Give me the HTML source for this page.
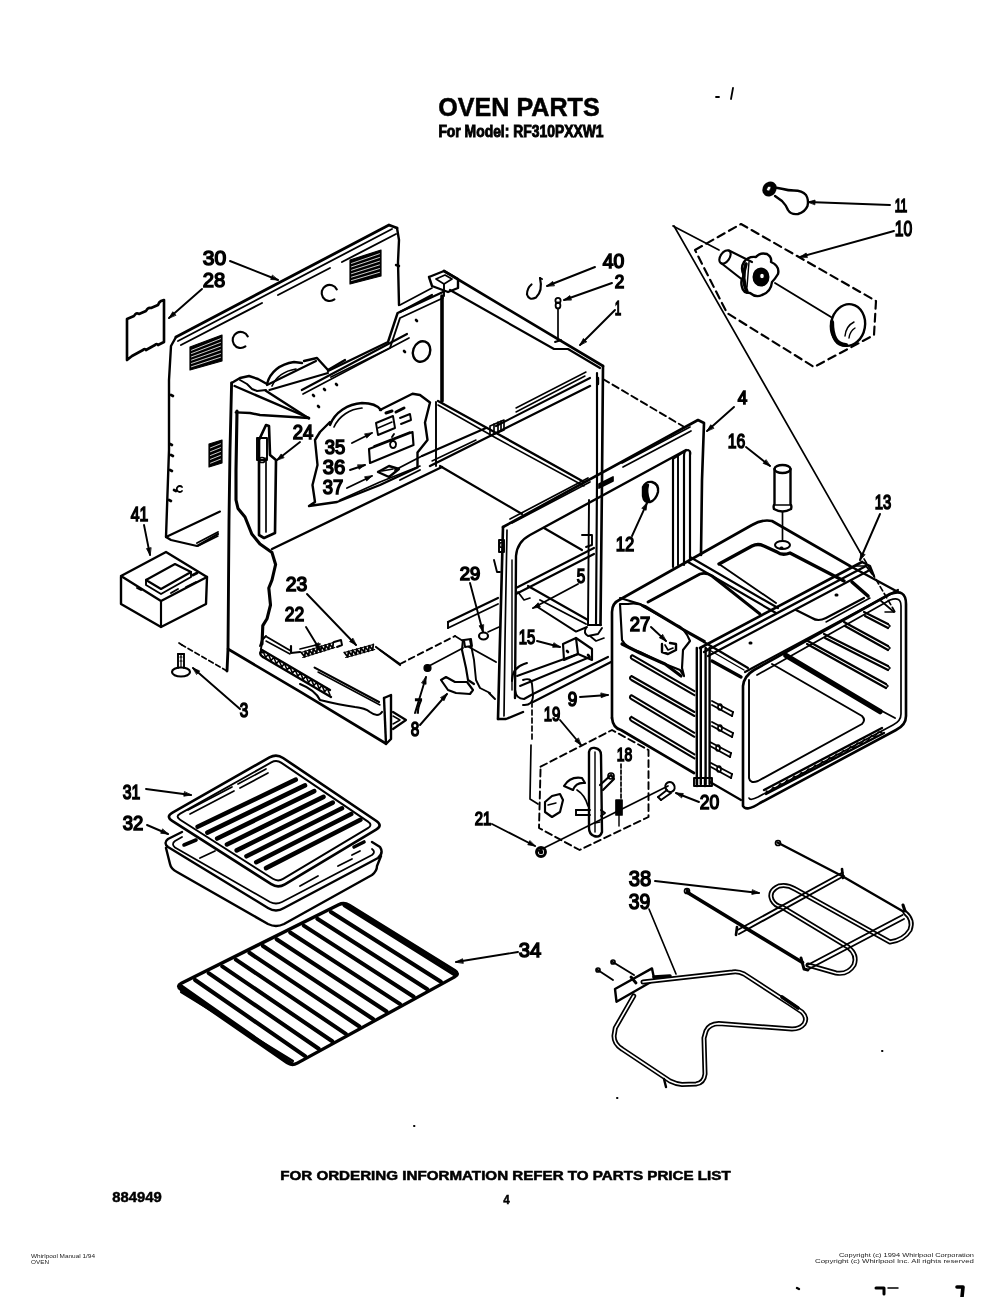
<!DOCTYPE html>
<html><head><meta charset="utf-8"><style>
html,body{margin:0;padding:0;background:#fff;}
body{width:1000px;height:1297px;overflow:hidden;position:relative;}
svg{position:absolute;left:0;top:0;will-change:transform;}
.n{font-family:"Liberation Sans",sans-serif;fill:#000;stroke:#000;stroke-width:1.5;}
.b{font-family:"Liberation Sans",sans-serif;font-weight:bold;fill:#000;stroke:#000;stroke-width:0.5;}
.m{font-family:"Liberation Sans",sans-serif;font-weight:bold;fill:#000;stroke:#000;stroke-width:0.9;}
.t{font-family:"Liberation Sans",sans-serif;fill:#222;}
</style></head><body>
<svg width="1000" height="1297" viewBox="0 0 1000 1297">
<g fill="none" stroke="#000" stroke-width="2" stroke-linejoin="round" stroke-linecap="round">
<polyline points="716,97 719,97" stroke-width="1.80"/>
<polyline points="733,88 731,99" stroke-width="1.80"/>
<polyline points="797,1288 799,1289" stroke-width="2.40"/>
<polyline points="876,1288 884,1288 884,1294" stroke-width="3.00"/>
<polyline points="888,1288 898,1288" stroke-width="1.44"/>
<polyline points="957,1287 963,1287 962,1297" stroke-width="3.60"/>
<polyline points="230,261 278,280" stroke-width="1.92"/>
<polygon points="278,280 270.682,279.469 272.301,275.378" fill="#000" stroke-width="0.8"/>
<polyline points="202,289 169,318" stroke-width="1.92"/>
<polygon points="169,318 172.806,311.727 175.71,315.032" fill="#000" stroke-width="0.8"/>
<polyline points="144,525 150,555" stroke-width="1.92"/>
<polygon points="150,555 146.47,548.567 150.784,547.704" fill="#000" stroke-width="0.8"/>
<polyline points="300,442 277,460" stroke-width="1.92"/>
<polygon points="277,460 281.157,453.953 283.868,457.418" fill="#000" stroke-width="0.8"/>
<polyline points="352,443 372,433" stroke-width="1.92"/>
<polygon points="372,433 366.723,438.098 364.755,434.163" fill="#000" stroke-width="0.8"/>
<polyline points="350,470 365,465" stroke-width="1.92"/>
<polygon points="365,465 359.055,469.301 357.664,465.126" fill="#000" stroke-width="0.8"/>
<polyline points="347,488 372,476" stroke-width="1.92"/>
<polygon points="372,476 366.641,481.012 364.737,477.046" fill="#000" stroke-width="0.8"/>
<polyline points="307,594 356,645" stroke-width="1.92"/>
<polygon points="356,645 349.564,641.476 352.737,638.428" fill="#000" stroke-width="0.8"/>
<polyline points="306,627 320,650" stroke-width="1.92"/>
<polygon points="320,650 314.481,645.164 318.24,642.877" fill="#000" stroke-width="0.8"/>
<polyline points="240,709 193,668" stroke-width="1.92"/>
<polygon points="193,668 199.721,670.944 196.829,674.259" fill="#000" stroke-width="0.8"/>
<polyline points="415,713 426,677" stroke-width="1.92"/>
<polygon points="426,677 426.058,684.337 421.85,683.052" fill="#000" stroke-width="0.8"/>
<polyline points="420,725 447,694" stroke-width="1.92"/>
<polygon points="447,694 444.062,700.723 440.744,697.834" fill="#000" stroke-width="0.8"/>
<polyline points="470,583 483,632" stroke-width="1.92"/>
<polygon points="483,632 479.079,625.798 483.331,624.67" fill="#000" stroke-width="0.8"/>
<polyline points="578,584 533,608" stroke-width="1.92"/>
<polygon points="533,608 538.141,602.765 540.212,606.647" fill="#000" stroke-width="0.8"/>
<polyline points="537,641 560,647" stroke-width="1.92"/>
<polygon points="560,647 552.671,647.362 553.782,643.104" fill="#000" stroke-width="0.8"/>
<polyline points="651,627 666,641" stroke-width="1.92"/>
<polygon points="666,641 659.382,637.832 662.384,634.615" fill="#000" stroke-width="0.8"/>
<polyline points="580,697 608,695" stroke-width="1.92"/>
<polygon points="608,695 601.175,697.693 600.861,693.304" fill="#000" stroke-width="0.8"/>
<polyline points="560,720 581,745" stroke-width="1.92"/>
<polygon points="581,745 574.813,741.055 578.182,738.225" fill="#000" stroke-width="0.8"/>
<polyline points="632,536 647,503" stroke-width="1.92"/>
<polygon points="647,503 646.106,510.283 642.101,508.462" fill="#000" stroke-width="0.8"/>
<polyline points="734,407 707,431" stroke-width="1.92"/>
<polygon points="707,431 710.77,424.705 713.693,427.994" fill="#000" stroke-width="0.8"/>
<polyline points="746,447 770,466" stroke-width="1.92"/>
<polygon points="770,466 763.146,463.38 765.877,459.93" fill="#000" stroke-width="0.8"/>
<polyline points="880,514 860,560" stroke-width="1.92"/>
<polygon points="860,560 860.774,552.703 864.809,554.458" fill="#000" stroke-width="0.8"/>
<polyline points="595,267 547,286" stroke-width="1.92"/>
<polygon points="547,286 552.699,281.378 554.318,285.469" fill="#000" stroke-width="0.8"/>
<polyline points="612,283 564,300" stroke-width="1.92"/>
<polygon points="564,300 569.864,295.589 571.333,299.737" fill="#000" stroke-width="0.8"/>
<polyline points="615,310 580,345" stroke-width="1.92"/>
<polygon points="580,345 583.394,338.495 586.505,341.606" fill="#000" stroke-width="0.8"/>
<polyline points="890,205 808,202" stroke-width="1.92"/>
<polygon points="808,202 815.076,200.057 814.915,204.454" fill="#000" stroke-width="0.8"/>
<polyline points="894,231 800,257" stroke-width="1.92"/>
<polygon points="800,257 806.16,253.014 807.333,257.254" fill="#000" stroke-width="0.8"/>
<polyline points="146,789 191,795" stroke-width="1.92"/>
<polygon points="191,795 183.771,796.256 184.352,791.894" fill="#000" stroke-width="0.8"/>
<polyline points="147,825 168,834" stroke-width="1.92"/>
<polygon points="168,834 160.699,833.265 162.433,829.22" fill="#000" stroke-width="0.8"/>
<polyline points="518,952 456,962" stroke-width="1.92"/>
<polygon points="456,962 462.56,958.713 463.261,963.057" fill="#000" stroke-width="0.8"/>
<polyline points="492,824 535,846" stroke-width="1.92"/>
<polygon points="535,846 527.766,844.77 529.77,840.853" fill="#000" stroke-width="0.8"/>
<polyline points="621,764 621,798" stroke-dasharray="4 2" stroke-width="1.68"/>
<polyline points="699,802 676,793" stroke-width="1.92"/>
<polygon points="676,793 683.32,793.502 681.717,797.6" fill="#000" stroke-width="0.8"/>
<polyline points="655,881 759,893" stroke-width="1.92"/>
<polygon points="759,893 751.794,894.383 752.298,890.012" fill="#000" stroke-width="0.8"/>
<polyline points="649,909 676,974" stroke-width="1.68"/>
<polyline points="176,337 389,225 397,228" stroke-width="2.88"/>
<polyline points="178,341 392,229" stroke-width="1.80"/>
<polyline points="397,228 399,240 398,262 399,305" stroke-width="2.40"/>
<polyline points="176,337 171,346 169,380 169,450 166,537" stroke-width="2.40"/>
<polyline points="181,345 262,303" stroke-width="1.92"/>
<polyline points="278,295 330,268" stroke-width="1.92"/>
<polyline points="342,262 396,234" stroke-width="1.92"/>
<polyline points="166,537 220,511.5" stroke-width="2.16"/>
<polyline points="166,537 171,540 197,546 218,534" stroke-width="2.16"/>
<polyline points="197,543 218,532" stroke-width="1.92"/>
<polyline points="198,546 218,536" stroke-width="1.44"/>
<polyline points="171,395 173,396" stroke-width="2.64"/>
<polyline points="170,444 172,445" stroke-width="2.64"/>
<polyline points="171,455 173,456" stroke-width="2.64"/>
<polyline points="170,470 172,471" stroke-width="2.64"/>
<polyline points="174,490 176,491" stroke-width="2.64"/>
<polyline points="169,500 171,501" stroke-width="2.64"/>
<path d="M 182,491 a 3 3 0 1 1 0,-4" stroke-width="1.80"/>
<path d="M 396,265 l 3,1" stroke-width="2.40"/>
<polygon points="350,260 381,250 381,276 350,284" stroke-width="1.20" fill="#000"/>
<polyline points="351.5,263.429 379.5,253.714" stroke="#fff" stroke-width="0.8"/>
<polyline points="351.5,266.857 379.5,257.429" stroke="#fff" stroke-width="0.8"/>
<polyline points="351.5,270.286 379.5,261.143" stroke="#fff" stroke-width="0.8"/>
<polyline points="351.5,273.714 379.5,264.857" stroke="#fff" stroke-width="0.8"/>
<polyline points="351.5,277.143 379.5,268.571" stroke="#fff" stroke-width="0.8"/>
<polyline points="351.5,280.571 379.5,272.286" stroke="#fff" stroke-width="0.8"/>
<polygon points="190,347 222,335 222,361 190,370" stroke-width="1.20" fill="#000"/>
<polyline points="191.5,350.286 220.5,338.714" stroke="#fff" stroke-width="0.8"/>
<polyline points="191.5,353.571 220.5,342.429" stroke="#fff" stroke-width="0.8"/>
<polyline points="191.5,356.857 220.5,346.143" stroke="#fff" stroke-width="0.8"/>
<polyline points="191.5,360.143 220.5,349.857" stroke="#fff" stroke-width="0.8"/>
<polyline points="191.5,363.429 220.5,353.571" stroke="#fff" stroke-width="0.8"/>
<polyline points="191.5,366.714 220.5,357.286" stroke="#fff" stroke-width="0.8"/>
<polygon points="209,444 222,440 222,463 209,467" stroke-width="1.20" fill="#000"/>
<polyline points="210.5,447.833 220.5,443.833" stroke="#fff" stroke-width="0.8"/>
<polyline points="210.5,451.667 220.5,447.667" stroke="#fff" stroke-width="0.8"/>
<polyline points="210.5,455.5 220.5,451.5" stroke="#fff" stroke-width="0.8"/>
<polyline points="210.5,459.333 220.5,455.333" stroke="#fff" stroke-width="0.8"/>
<polyline points="210.5,463.167 220.5,459.167" stroke="#fff" stroke-width="0.8"/>
<path d="M 334.4,299.4 A 8 8 0 1 1 336.8,289.4" stroke-width="2.16"/>
<path d="M 245.4,346.4 A 8 8 0 1 1 247.8,336.4" stroke-width="2.16"/>
<path d="M 127,319 L 134,316 q 2,-4 5,-2 L 146,311 q 2,-4 5,-3 L 158,305 q 1,-3 3,-4 L 164,300 L 164,342 L 158,345 q -1,-2 -3,0 L 146,350 q -1,-2 -3,0 L 132,356 L 127,360 Z" stroke-width="2.64"/>
<polyline points="121,576 166,552 207,577 161,601 121,576" stroke-width="2.40"/>
<polyline points="121,577 121,604 161,627 206,604 207,577" stroke-width="2.40"/>
<polyline points="161,601 161,627" stroke-width="2.16"/>
<polyline points="146,580 175,564 191,572 161,589 146,580" stroke-width="2.16"/>
<polyline points="146,580 146,585 161,594 191,577 191,572" stroke-width="1.92"/>
<polyline points="137,588 141,590" stroke-width="1.92"/>
<polyline points="171,593 178,589" stroke-width="1.92"/>
<polyline points="186,587 196,582" stroke-width="1.92"/>
<polyline points="193,575 197,573" stroke-width="3.00"/>
<polyline points="178,654 178,668" stroke-width="1.92"/>
<polyline points="184,654 184,668" stroke-width="1.92"/>
<polyline points="178,654 184,654" stroke-width="1.92"/>
<polyline points="180,657 182,657" stroke-width="1.20"/>
<polyline points="180,661 182,661" stroke-width="1.20"/>
<ellipse cx="181" cy="672" rx="9" ry="4.5" stroke-width="2.16"/>
<polyline points="181,655 181,667" stroke-width="1.20"/>
<polyline points="231.6,383 230,450 229,520 228,649 227,671" stroke-width="2.88"/>
<polyline points="227,671 182,645" stroke-dasharray="5 3" stroke-width="1.68"/>
<polyline points="182,645 179,643" stroke-width="1.68"/>
<polyline points="231.6,383 240,378 249,376 258,379 267,384" stroke-width="2.40"/>
<polyline points="240,380 247,384 252,389 257,391 266,390" stroke-width="1.92"/>
<polyline points="234.6,386 309,418" stroke-width="2.40"/>
<polyline points="265.8,390.8 309,418.4" stroke-width="2.40"/>
<polyline points="235.8,412.4 250,413 260,415 309,418" stroke-width="2.40"/>
<polyline points="237,411 236,470 236,500 238,508.5 245,517 251.8,534 260,544 272,552.6 275.6,564.5 272,580 268.8,588 270.5,605 267,618.8 262.8,625.6 262,644" stroke-width="3.12"/>
<polyline points="272,549 442,467" stroke-width="2.40"/>
<polyline points="228,649 300,691.7 385,743" stroke-width="2.64"/>
<path d="M 267,384 C 270,372 280,364 294,362 L 302,363" stroke-width="2.40"/>
<path d="M 272,386 C 276,377 284,371 296,369" stroke-width="1.68"/>
<polyline points="267,385 316,361" stroke-width="2.16"/>
<polyline points="304,361 317,358 328,370 345,360" stroke-width="2.40"/>
<polyline points="269.4,390 328,373" stroke-width="2.16"/>
<polyline points="328,371 388,342 397.6,313 443,292" stroke-width="2.40"/>
<polyline points="331,377 390,348 400,318 443,298" stroke-width="1.92"/>
<polyline points="301.8,390 407,334" stroke-width="2.16"/>
<polyline points="303,394 409,338" stroke-width="1.68"/>
<polyline points="313,395 314,396" stroke-width="2.64"/>
<polyline points="324,389 325,390" stroke-width="2.64"/>
<polyline points="336,384 337,385" stroke-width="2.64"/>
<polyline points="318,406 319,407" stroke-width="2.64"/>
<polyline points="404,351 405,352" stroke-width="2.64"/>
<polyline points="416,320 417,321" stroke-width="2.64"/>
<ellipse cx="421.6" cy="351.5" rx="8.5" ry="10.5" stroke-width="2.40" transform="rotate(20 421.6 351.5)"/>
<polyline points="259,440 259,535 264,538 275,533 276,460 270,455 269,426 266,425 259,440" stroke-width="2.64"/>
<polyline points="266,458 266,532" stroke-width="1.68"/>
<polyline points="257,438 257,460 267,460 267,438 257,438" stroke-width="1.92"/>
<ellipse cx="262" cy="460" rx="3" ry="2.5" stroke-width="1.68"/>
<polyline points="330,422 320,432 315,440 317.5,465 312.5,485 315,502 309,506 337,502 380,485 417.5,467.5 417.5,452.5 427.5,440 425,422.5 430,402.5 420,395 412.5,393.75 380,410" stroke-width="2.40"/>
<path d="M 330,425 C 335,412 348,404 362,403 C 372,403 378,406 381,410" stroke-width="2.40"/>
<path d="M 334,427 C 339,416 350,409 362,408" stroke-width="1.68"/>
<polyline points="376,423 393,416 395,428 378,435 376,423" stroke-width="1.92"/>
<polyline points="386,413 392,411" stroke-width="3.00"/>
<polyline points="396,412 404,408" stroke-width="3.00"/>
<polyline points="400,418 410,414 411,420 401,424" stroke-width="1.92"/>
<polyline points="378,428 392,422" stroke-width="1.44"/>
<polyline points="369,449 412.5,432 413.5,445 370,463 369,449" stroke-width="2.16"/>
<polyline points="374,446 410,432" stroke-width="1.44"/>
<path d="M 393,441 a 3 3.5 0 1 0 0.1,0 M 392,437 l 2,-3" stroke-width="1.92"/>
<polyline points="378,472 389,466 399,469 389,477 378,472" stroke-width="2.40"/>
<polyline points="382,471 393,469" stroke-width="1.68"/>
<polyline points="340,500 380,482 410,470 420,466" stroke-width="1.68"/>
<polyline points="429,277 444,271 458,279 458,288 448,292 432,286 429,277" stroke-width="2.40"/>
<polyline points="436,279 445,275 452,279 444,284 436,279" stroke-width="1.68"/>
<polyline points="444,284 444,296" stroke-width="1.92"/>
<polyline points="444,271 603,366" stroke-width="2.64"/>
<polyline points="450,290 554,349 568,349 600,368" stroke-width="2.16"/>
<polyline points="442,296 442,401" stroke-width="3.60"/>
<polyline points="603,366 602,480 600.5,625" stroke-width="2.64"/>
<polyline points="597,373 597,480 596,625" stroke-width="2.16"/>
<polyline points="589,500 588,625" stroke-width="1.92"/>
<polyline points="588,625 601,625" stroke-width="1.92"/>
<polyline points="603,379 686,428" stroke-dasharray="7 4" stroke-width="1.92"/>
<polyline points="438,401 498,434 584,482" stroke-width="2.40"/>
<polyline points="438,405 496,438 584,486" stroke-width="1.56"/>
<polyline points="436,402 436,466" stroke-width="1.92"/>
<polyline points="422,456 486,428" stroke-width="2.16"/>
<polyline points="496,426 590,378" stroke-width="2.16"/>
<polyline points="430,466 494,434 590,386" stroke-width="2.40"/>
<polyline points="432,461 476,440" stroke-width="1.44"/>
<polyline points="516,412 585,376" stroke-width="1.44"/>
<polyline points="516,408 586,372" stroke-width="1.44"/>
<polyline points="490,426 504,420 504,430 490,436 490,426" stroke-width="1.68"/>
<polyline points="494,424 494,434" stroke-width="1.68"/>
<polyline points="498,422 498,432" stroke-width="1.68"/>
<polyline points="501,421 501,431" stroke-width="1.68"/>
<polyline points="598,378 598,384" stroke-width="2.40"/>
<polyline points="440,466 522,514" stroke-width="2.16"/>
<polyline points="544,528 582,550" stroke-width="2.16"/>
<polyline points="528,586 588,620" stroke-width="2.16"/>
<polyline points="540,600 586,624" stroke-width="1.92"/>
<polyline points="536,606 576,631.6 587,627" stroke-width="1.92"/>
<polyline points="400,480 420,470" stroke-width="1.92"/>
<polyline points="395,470 422,456" stroke-width="1.92"/>
<polyline points="400,312 432,295" stroke-width="2.16"/>
<polyline points="400,305 432,288" stroke-width="1.68"/>
<polyline points="503,527 698,420 704,423 702,480 701,555" stroke-width="2.64"/>
<path d="M 686,450 L 530,535 Q 517,542 516,556 L 515,698" stroke-width="2.40"/>
<polyline points="690,452 690,560" stroke-width="2.16"/>
<path d="M 684,565 L 684,456 Q 684,450 688,450 Q 691,451 690,455" stroke-width="2.16"/>
<polyline points="678,456 678,565" stroke-width="1.92"/>
<polyline points="673,459 673,567" stroke-width="2.16"/>
<polyline points="673,459 684,452" stroke-width="1.68"/>
<polyline points="503,527 500,640 498,719" stroke-width="2.64"/>
<polyline points="507,530 505,640 504,716" stroke-width="1.68"/>
<polyline points="512,690 512,560" stroke-width="1.44"/>
<polyline points="510,519 588,478" stroke-width="1.68"/>
<polyline points="512,523 590,482" stroke-width="1.68"/>
<polyline points="622,463 690,427" stroke-width="1.68"/>
<polyline points="623,467 691,431" stroke-width="1.68"/>
<polyline points="599,484 613,477 613,481 599,488 599,484" stroke-width="1.68" fill="#000"/>
<polyline points="498,719 506,719 523,712" stroke-width="2.40"/>
<path d="M 515,690 Q 516,699 524,699 L 533,694" stroke-width="2.16"/>
<polyline points="517,676 578,654" stroke-width="1.92"/>
<polyline points="520,686 590,657" stroke-width="1.92"/>
<polyline points="533,694 608,657" stroke-width="2.16"/>
<polyline points="533,702 611,662" stroke-width="2.16"/>
<path d="M 512,681 Q 512,668 524,664 L 527,663" stroke-width="1.92"/>
<path d="M 523,705 Q 533,706 533,695 L 532,684 Q 531,677 523,680" stroke-width="1.92"/>
<polyline points="499,540 504,540 504,552 499,552 499,540" stroke-width="1.92"/>
<ellipse cx="501.5" cy="545" rx="2" ry="2.5" stroke-width="1.44"/>
<polyline points="494,560 497,572 500,572" stroke-width="1.92"/>
<polyline points="516,588 594,548" stroke-width="2.16"/>
<polyline points="516,594 594,554" stroke-width="2.16"/>
<polyline points="518,592 524,600 530,598" stroke-width="1.68"/>
<polyline points="582,535 592,535 592,545 586,547" stroke-width="1.92"/>
<polyline points="448,622 498,598" stroke-width="2.16"/>
<polyline points="448,628 498,604" stroke-width="1.92"/>
<polyline points="448,622 448,628" stroke-width="1.92"/>
<ellipse cx="483.5" cy="636" rx="4.5" ry="3.5" stroke-width="2.16"/>
<polyline points="488,632 499,627" stroke-width="1.68"/>
<polyline points="455,636 463,641" stroke-width="1.68"/>
<polyline points="380,650 400,664" stroke-width="1.92"/>
<polyline points="400,664 455,636" stroke-dasharray="6 4" stroke-width="1.92"/>
<ellipse cx="427.5" cy="668" rx="3.5" ry="3.5" stroke-width="1.20" fill="#000"/>
<polyline points="429,666 463,648" stroke-width="1.68"/>
<polyline points="463,640 462,650 466,668 468,680 474,684" stroke-width="2.16"/>
<polyline points="470,640 472,650 474,660 476,680 480,688 490,693" stroke-width="1.92"/>
<polyline points="464,640 471,639 472,646 465,647 464,640" stroke-width="1.92"/>
<polyline points="441,680 446,677 455,682 467,682 473,690 470,694 456,693 448,690 441,680" stroke-width="2.16"/>
<polyline points="489,693 495,699" stroke-width="1.92"/>
<polyline points="469,647 496,662" stroke-width="1.92"/>
<polyline points="532,702 532,742" stroke-dasharray="5 3" stroke-width="1.68"/>
<path d="M 262,644 Q 259,655 264,652" stroke-width="1.92"/>
<polyline points="260,646 262,640 266,636" stroke-width="1.92"/>
<polyline points="267,637 291,651" stroke-width="1.92"/>
<polyline points="266,641 290,654" stroke-width="1.44"/>
<polyline points="262,650 330,690" stroke-width="2.40"/>
<polyline points="263,657 331,697" stroke-width="2.40"/>
<path d="M 262,650 Q 258,654 263,657" stroke-width="2.40"/>
<polyline points="263,651 265.68,657.56 268.36,654.12 271.04,660.68 273.72,657.24 276.4,663.8 279.08,660.36 281.76,666.92 284.44,663.48 287.12,670.04 289.8,666.6 292.48,673.16 295.16,669.72 297.84,676.28 300.52,672.84 303.2,679.4 305.88,675.96 308.56,682.52 311.24,679.08 313.92,685.64 316.6,682.2 319.28,688.76 321.96,685.32 324.64,691.88 327.32,688.44 330,695" stroke-width="1.56"/>
<path d="M 300,684 Q 315,690 320,700 Q 340,705 355,707 Q 365,708 370,712 Q 378,718 382,712" stroke-width="2.16"/>
<polyline points="314.6,667.6 379,702" stroke-width="2.16"/>
<polyline points="318,672 380,705" stroke-width="1.44"/>
<polyline points="384,698 386,744" stroke-width="2.40"/>
<polyline points="384,698 391,695 391,739 386,744" stroke-width="2.40"/>
<polyline points="393,712 406,720 393,729" stroke-width="2.16"/>
<polyline points="393,716 400,720 393,724" stroke-width="1.44"/>
<polyline points="291,646 291,653 300,652" stroke-width="2.16"/>
<polyline points="301.224,652.518 304.776,656.857 305.224,651.268 308.776,655.607 309.224,650.018 312.776,654.357 313.224,648.768 316.776,653.107 317.224,647.518 320.776,651.857 321.224,646.268 324.776,650.607 325.224,645.018 328.776,649.357 329.224,643.768 332.776,648.107 333.224,642.518" stroke-width="1.80"/>
<polyline points="302.776,657.482 334.776,647.482" stroke-width="1.20"/>
<polyline points="301.224,652.518 333.224,642.518" stroke-width="1.20"/>
<polyline points="334,642 341,640 342,645 337,647" stroke-width="1.92"/>
<polyline points="300,649 320,644" stroke-width="1.68"/>
<polyline points="344.309,652.494 347.763,656.935 348.451,651.351 351.906,655.792 352.594,650.208 356.049,654.649 356.737,649.065 360.191,653.506 360.88,647.922 364.334,652.364 365.023,646.779 368.477,651.221 369.166,645.636 372.62,650.078 373.309,644.494" stroke-width="1.80"/>
<polyline points="345.691,657.506 374.691,649.506" stroke-width="1.20"/>
<polyline points="344.309,652.494 373.309,644.494" stroke-width="1.20"/>
<polyline points="376,647 400,665" stroke-width="2.16"/>
<polyline points="563,644 576,638 578,654 564,660 563,644" stroke-width="2.16"/>
<polyline points="576,638 592,649 592,660 578,654" stroke-width="2.16"/>
<polyline points="567,651 568,652" stroke-width="2.64"/>
<polyline points="588,655 589,656" stroke-width="2.64"/>
<path d="M 586,628 Q 583,633 588,636 L 598,634 L 602,628" stroke-width="1.92"/>
<polyline points="590,636 596,641 604,638" stroke-width="1.68"/>
<path d="M 612,718 L 612,612 Q 612,603 620,599.5 L 752,525 Q 762,519 772,521 L 850,566" stroke-width="2.64"/>
<polyline points="850,566 898,592" stroke-width="2.40"/>
<polyline points="620,598 640,604 690,634 704,642" stroke-width="2.16"/>
<path d="M 612,718 Q 613,728 621,730 L 694,773" stroke-width="2.64"/>
<path d="M 632.2,655.2 L 694.4,691.2 M 632.2,659.2 L 694.4,695.2 M 632.2,655.2 Q 629.2,657.2 632.2,659.2" stroke-width="2.04"/>
<path d="M 631.4,676 L 694.4,712 M 631.4,680 L 694.4,716 M 631.4,676 Q 628.4,678 631.4,680" stroke-width="2.04"/>
<path d="M 631.4,695.2 L 694.4,732.8 M 631.4,699.2 L 694.4,736.8 M 631.4,695.2 Q 628.4,697.2 631.4,699.2" stroke-width="2.04"/>
<path d="M 631.4,716.8 L 694.4,754.4 M 631.4,720.8 L 694.4,758.4 M 631.4,716.8 Q 628.4,718.8 631.4,720.8" stroke-width="2.04"/>
<polyline points="712,701 733,712" stroke-width="1.92"/>
<polyline points="712,705 732,716" stroke-width="1.92"/>
<polyline points="733,712 732,716" stroke-width="1.92"/>
<ellipse cx="720" cy="707" rx="2" ry="3" stroke-width="1.68"/>
<polyline points="712,722 733,733" stroke-width="1.92"/>
<polyline points="712,726 732,737" stroke-width="1.92"/>
<polyline points="733,733 732,737" stroke-width="1.92"/>
<ellipse cx="720" cy="728" rx="2" ry="3" stroke-width="1.68"/>
<polyline points="710,742 731,753" stroke-width="1.92"/>
<polyline points="710,746 730,757" stroke-width="1.92"/>
<polyline points="731,753 730,757" stroke-width="1.92"/>
<ellipse cx="718" cy="748" rx="2" ry="3" stroke-width="1.68"/>
<polyline points="711,763 732,774" stroke-width="1.92"/>
<polyline points="711,767 731,778" stroke-width="1.92"/>
<polyline points="732,774 731,778" stroke-width="1.92"/>
<ellipse cx="719" cy="769" rx="2" ry="3" stroke-width="1.68"/>
<polyline points="696.8,648 696.8,784" stroke-width="2.40"/>
<polyline points="700.8,648 700.8,784" stroke-width="2.40"/>
<polyline points="705.6,648 705.6,784" stroke-width="2.40"/>
<polyline points="709.6,648 709.6,784" stroke-width="2.40"/>
<polyline points="694,778 712,778 712,786 694,786 694,778" stroke-width="1.92"/>
<polyline points="697,778 697,786" stroke-width="2.40"/>
<polyline points="705,778 705,786" stroke-width="2.40"/>
<polyline points="710,782 741,800" stroke-width="2.16"/>
<path d="M 620,604 L 622,640 Q 626,648 640,652 L 660,662 L 680,670 L 684,676 L 682,668 L 683,650 L 690,641 Q 685,628 675,624 L 645,606 Q 636,602 628,604 Z" stroke-width="2.16"/>
<polyline points="622,644 640,653 665,664 681,676" stroke-width="3.12"/>
<polyline points="662,644 662,652 668,654 676,650 676,644 670,643" stroke-width="2.40"/>
<polyline points="665,645 668,650 673,648" stroke-width="1.68"/>
<path d="M 743,806 L 743,686 Q 744,676 754,670 L 890,594 Q 906,588 906,604 L 906,716 Q 906,725 896,730 L 760,803 Q 746,812 743,806" stroke-width="2.64"/>
<path d="M 757,675 L 890,600 Q 901,596 901,606 L 901,714 Q 901,721 893,725 L 758,797 Q 750,801 749,798" stroke-width="1.68"/>
<path d="M 749,680 L 749,778 Q 750,784 758,781 L 862,724 Q 866,720 862,716 L 772,664" stroke-width="1.92"/>
<polyline points="704,642 748,668" stroke-width="2.16"/>
<polyline points="706,648 744,670" stroke-width="1.44"/>
<polyline points="712,661 741,677" stroke-width="3.36"/>
<polyline points="764,790 882,728" stroke-width="2.40"/>
<polyline points="766,794 884,733" stroke-width="2.40"/>
<polyline points="766,791 769.515,792.152 773.03,787.303 776.545,788.455 780.061,783.606 783.576,784.758 787.091,779.909 790.606,781.061 794.121,776.212 797.636,777.364 801.152,772.515 804.667,773.667 808.182,768.818 811.697,769.97 815.212,765.121 818.727,766.273 822.242,761.424 825.758,762.576 829.273,757.727 832.788,758.879 836.303,754.03 839.818,755.182 843.333,750.333 846.848,751.485 850.364,746.636 853.879,747.788 857.394,742.939 860.909,744.091 864.424,739.242 867.939,740.394 871.455,735.545 874.97,736.697 878.485,731.848 882,733" stroke-width="1.32"/>
<polyline points="786,655.5 880,711.5" stroke-width="5.52"/>
<polyline points="880,710 895,718" stroke-width="1.92"/>
<polyline points="806,640 886,684" stroke-width="2.16"/>
<polyline points="807,644 886,688" stroke-width="2.16"/>
<polyline points="886,684 888,686 886,688" stroke-width="1.68"/>
<polyline points="824,634 888,666" stroke-width="2.16"/>
<polyline points="825,638 888,670" stroke-width="2.16"/>
<polyline points="888,666 890,668 888,670" stroke-width="1.68"/>
<polyline points="844,622 888,646" stroke-width="2.16"/>
<polyline points="845,626 888,650" stroke-width="2.16"/>
<polyline points="888,646 890,648 888,650" stroke-width="1.68"/>
<polyline points="864,612 888,624" stroke-width="2.16"/>
<polyline points="865,616 888,628" stroke-width="2.16"/>
<polyline points="888,624 890,626 888,628" stroke-width="1.68"/>
<polyline points="852,582 868,596" stroke-width="3.60"/>
<polyline points="880,600 894,612" stroke-width="1.68"/>
<polyline points="894,612 885,612" stroke-width="1.44"/>
<path d="M 719,564 L 752,546 Q 758,543 764,546 L 777,552 Q 782,556 790,553 L 844,581" stroke-width="3.36"/>
<polyline points="719,564 776,603" stroke-width="1.92"/>
<polyline points="690,557 778,608" stroke-width="2.16"/>
<polyline points="688,562 776,613" stroke-width="2.16"/>
<polyline points="648,602 700,574" stroke-width="1.44"/>
<path d="M 648,602 L 700,574 Q 706,572 712,576 L 760,614" stroke-width="2.88"/>
<polyline points="642,606 705,641" stroke-width="1.68"/>
<path d="M 796,610 L 812,618 Q 818,622 826,618 L 864,598" stroke-width="2.16"/>
<polyline points="826,622 870,598" stroke-width="1.44"/>
<polyline points="700,648 862,562" stroke-width="2.64"/>
<polyline points="704,652 866,566" stroke-width="2.40"/>
<polyline points="708,656 868,571" stroke-width="2.16"/>
<polyline points="862,562 870,566 874,576" stroke-width="2.16"/>
<polyline points="856,566 866,566 872,574" stroke-width="1.68"/>
<polyline points="745,672 898,590" stroke-width="2.16"/>
<polyline points="836,595 837,595" stroke-width="3.00"/>
<polyline points="750,643 751,643" stroke-width="3.00"/>
<polyline points="781,548 782,548" stroke-width="3.00"/>
<path d="M 774.5,469 L 774.5,504 Q 773,506 774,509 Q 782.5,514 791,509 Q 792,506 790.5,504 L 790.5,469" stroke-width="2.40"/>
<ellipse cx="782.5" cy="469" rx="8" ry="4" stroke-width="2.40"/>
<polyline points="775,505 790,505" stroke-width="1.68"/>
<polyline points="782.5,512 782.5,541" stroke-width="1.68"/>
<ellipse cx="782.5" cy="545" rx="7.5" ry="4" stroke-width="2.04"/>
<path d="M 643,487 Q 646,481 652,482 Q 659,484 658,492 Q 656,500 650,502 Q 644,503 643,496 Z" stroke-width="2.40"/>
<path d="M 645,485 Q 642,492 646,500 L 649,500 Q 646,492 648,485 Z" stroke-width="2.40" fill="#000"/>
<path d="M 540,278 Q 543,291 536,297.5 Q 529,301 527,294.5 Q 527,288 531.5,284.5" stroke-width="2.16"/>
<polyline points="540,278 542,279" stroke-width="1.92"/>
<ellipse cx="558" cy="300.5" rx="2.6" ry="2.6" stroke-width="1.80"/>
<ellipse cx="558" cy="305.5" rx="2.4" ry="3" stroke-width="1.80"/>
<polyline points="558,309 558,338" stroke-width="1.68"/>
<polyline points="555,342 561,340" stroke-width="1.92"/>
<ellipse cx="769.5" cy="189" rx="5.5" ry="6.5" stroke-width="2.64" fill="#000" transform="rotate(35 769.5 189)"/>
<ellipse cx="768.8" cy="188.6" rx="1.8" ry="2.6" stroke-width="0.72" fill="#fff" transform="rotate(35 768.8 188.6)"/>
<path d="M 775,187.5 L 783,189 Q 788,190.5 794,190.5 Q 802,190.5 806,195 Q 809,200 807.5,206 Q 805,212 798,214 Q 791,215 788,210 Q 786,205 782,201 L 775,196" stroke-width="2.40"/>
<polyline points="695,250 741,224 876,301 874,335 814,367 727,313 695,250" stroke-dasharray="8 5" stroke-width="2.16"/>
<ellipse cx="725" cy="257" rx="4.5" ry="7.5" stroke-width="2.16" transform="rotate(35 725 257)"/>
<polyline points="729,250.5 752,262" stroke-width="2.16"/>
<polyline points="721,263 744,281" stroke-width="2.16"/>
<path d="M 744,262 Q 748,256 756,257 Q 760,252 767,254 Q 772,257 771,262 Q 780,266 778,274 Q 775,279 772,282 Q 771,292 762,295 Q 756,298 750,293 Q 743,293 742,287 Q 740,280 744,276 Q 740,268 744,262 Z" stroke-width="2.40"/>
<ellipse cx="761" cy="277" rx="7" ry="8" stroke-width="3.00" fill="#000"/>
<ellipse cx="762" cy="276" rx="2.4" ry="2.8" stroke-width="1.20" fill="#fff"/>
<path d="M 746,264 Q 741,278 747,292" stroke-width="3.60"/>
<polyline points="749,262 747,287" stroke-width="1.44"/>
<polyline points="775,283 831,317" stroke-width="1.92"/>
<polyline points="673,226 719,250" stroke-width="1.68"/>
<ellipse cx="848" cy="325" rx="17" ry="21" stroke-width="2.40" transform="rotate(10 848 325)"/>
<path d="M 832,322 Q 832,345 846,345" stroke-width="4.20"/>
<path d="M 845,336 Q 846,326 854,322" stroke-width="1.44"/>
<path d="M 849,338 Q 850,331 855,328" stroke-width="1.44"/>
<polyline points="674,226 860,552" stroke-width="1.68"/>
<polyline points="860,552 895,612" stroke-dasharray="5 3" stroke-width="1.68"/>
<path d="M 172.2,820.8 Q 165.5,816.5 172.5,812.6 L 269.5,757.4 Q 276.5,753.5 283.1,758.0 L 376.4,821.0 Q 383.0,825.5 376.1,829.6 L 284.9,884.4 Q 278.0,888.5 271.3,884.2 Z" stroke-width="2.64"/>
<path d="M 180.1,819.7 Q 175.0,816.5 180.2,813.6 L 271.3,762.4 Q 276.5,759.5 281.5,762.9 L 368.0,821.6 Q 373.0,825.0 367.9,828.1 L 283.1,878.9 Q 278.0,882.0 272.9,878.8 Z" stroke-width="1.92"/>
<polyline points="197.623,826.754 295.772,779.661" stroke-width="4.56"/>
<polyline points="207.391,832.661 305.016,785.394" stroke-width="4.56"/>
<polyline points="217.159,838.568 314.26,791.127" stroke-width="4.56"/>
<polyline points="226.926,844.476 323.505,796.859" stroke-width="4.56"/>
<polyline points="236.694,850.383 332.749,802.592" stroke-width="4.56"/>
<polyline points="246.462,856.29 341.993,808.325" stroke-width="4.56"/>
<polyline points="256.23,862.198 351.237,814.057" stroke-width="4.56"/>
<polyline points="265.998,868.105 360.481,819.79" stroke-width="4.56"/>
<polyline points="188,810 232,787" stroke-width="1.68"/>
<polyline points="190,814 234,791" stroke-width="1.68"/>
<polyline points="238,784 266,769" stroke-width="1.68"/>
<polyline points="240,788 268,773" stroke-width="1.68"/>
<path d="M 182,832 L 168,839 Q 163,843 168,847 L 268,908 Q 276,913 284,908 L 378,858 Q 384,853 380,847 L 372,842" stroke-width="2.40"/>
<path d="M 182,837 L 175,841 Q 171,844 175,847.5 L 270,902 Q 276,905 282,902 L 372,855 Q 376,852 372,849" stroke-width="1.80"/>
<path d="M 166,848 L 170,864 Q 171,869 177,872 L 268,924 Q 276,928 284,924 L 372,875 Q 377,871 377,866 L 381,856" stroke-width="2.40"/>
<polyline points="184,845 196,840" stroke-width="3.60"/>
<polyline points="354,847 364,842" stroke-width="3.60"/>
<polyline points="200,858 215,851" stroke-width="1.80"/>
<polyline points="338,866 352,859" stroke-width="1.80"/>
<polyline points="300,886 318,876" stroke-width="1.80"/>
<polyline points="352,855 360,851" stroke-width="1.80"/>
<path d="M 180.9,989.4 Q 176.0,986.0 181.4,983.3 L 338.6,904.7 Q 344.0,902.0 349.1,905.2 L 454.9,970.8 Q 460.0,974.0 454.7,976.9 L 297.3,1063.1 Q 292.0,1066.0 287.1,1062.6 Z" stroke-width="3.36"/>
<polyline points="181,992 293,1061" stroke-width="2.16"/>
<polyline points="181.52,986.74 291.52,1063.62" stroke-width="4.08"/>
<polyline points="195.1,979.95 305.1,1056.18" stroke-width="4.08"/>
<polyline points="208.68,973.16 318.68,1048.75" stroke-width="4.08"/>
<polyline points="222.26,966.37 332.26,1041.31" stroke-width="4.08"/>
<polyline points="235.84,959.58 345.84,1033.87" stroke-width="4.08"/>
<polyline points="249.42,952.79 359.42,1026.44" stroke-width="4.08"/>
<polyline points="263,946 373,1019" stroke-width="4.08"/>
<polyline points="276.58,939.21 386.58,1011.56" stroke-width="4.08"/>
<polyline points="290.16,932.42 400.16,1004.13" stroke-width="4.08"/>
<polyline points="303.74,925.63 413.74,996.69" stroke-width="4.08"/>
<polyline points="317.32,918.84 427.32,989.253" stroke-width="4.08"/>
<polyline points="330.9,912.05 440.9,981.817" stroke-width="4.08"/>
<polyline points="344.48,905.26 454.48,974.38" stroke-width="4.08"/>
<polyline points="540.6,766.7 612,730 648.5,750 648.5,817 579.6,850 539,828 540.6,766.7" stroke-dasharray="7 4" stroke-width="1.92"/>
<polyline points="531,745 530,799 538,804" stroke-width="1.68"/>
<path d="M 589,752 Q 590,747 595,748 Q 601,749 601,755 L 602,832 Q 600,838 594,836 Q 589,834 589,828 Z" stroke-width="2.40"/>
<polyline points="595,752 595,832" stroke-width="1.44"/>
<polyline points="600,785 611,775 614,779 603,790" stroke-width="2.16"/>
<ellipse cx="611" cy="776" rx="3" ry="3" stroke-width="1.68"/>
<polyline points="576,810 590,810" stroke-width="1.92"/>
<polyline points="576,815 590,815" stroke-width="1.92"/>
<polyline points="576,810 576,815" stroke-width="1.92"/>
<polyline points="601,810 605,813 601,816" stroke-width="1.92"/>
<path d="M 564,786 Q 570,776 582,778 L 585,783 Q 576,782 573,790 Z" stroke-width="2.16"/>
<path d="M 577,790 Q 585,795 588,806" stroke-width="1.68"/>
<path d="M 545,802 L 552,796 L 560,794 L 563,800 L 560,812 L 552,817 L 545,812 Z" stroke-width="2.16"/>
<polyline points="548,805 556,803" stroke-width="1.44"/>
<polyline points="538,851 668,786" stroke-width="1.68"/>
<polyline points="595,823 600,822" stroke-width="1.44"/>
<polyline points="616,800 622,800 622,815 616,815 616,800" stroke-width="1.68" fill="#000"/>
<polyline points="619,815 619,826" stroke-width="1.44"/>
<ellipse cx="670" cy="787" rx="4.5" ry="5" stroke-width="2.16" transform="rotate(-30 670 787)"/>
<polyline points="667,790 658,797" stroke-width="1.92"/>
<polyline points="671,793 661,800" stroke-width="1.92"/>
<polyline points="658,797 661,800" stroke-width="1.92"/>
<ellipse cx="541" cy="852" rx="4.5" ry="4.5" stroke-width="2.88"/>
<ellipse cx="541" cy="852" rx="1.5" ry="1.5" stroke-width="1.68" fill="#000"/>
<polyline points="777.5,842.5 842,876 905,912.5" stroke-width="2.40"/>
<ellipse cx="778" cy="843" rx="2.5" ry="2.5" stroke-width="1.68"/>
<polyline points="687.5,892.5 802.5,962.5" stroke-width="3.60"/>
<polyline points="687,890 690,894" stroke-width="2.40"/>
<ellipse cx="687" cy="891" rx="2.5" ry="2.5" stroke-width="1.68"/>
<path d="M 905,912.5 Q 914,920 910,930 Q 904,940 890,942 L 795,889 Q 787,884 779,886 Q 768,891 772,900 Q 775,906 782,907 L 848,947 Q 858,955 854,965 Q 848,975 836,973 L 808,965" stroke-width="5.04"/>
<path d="M 905,912.5 Q 914,920 910,930 Q 904,940 890,942 L 795,889 Q 787,884 779,886 Q 768,891 772,900 Q 775,906 782,907 L 848,947 Q 858,955 854,965 Q 848,975 836,973 L 808,965" stroke="#fff" stroke-width="1.6"/>
<polyline points="737.5,930 842.5,872.5" stroke-width="1.92"/>
<polyline points="739,934 844,876" stroke-width="1.92"/>
<polyline points="807.5,965 902.5,915" stroke-width="1.92"/>
<polyline points="809,969 904,919" stroke-width="1.92"/>
<polyline points="737,927 736,935" stroke-width="2.64"/>
<polyline points="842,869 843,878" stroke-width="2.64"/>
<polyline points="801,958 804,969 808,970" stroke-width="2.88"/>
<polyline points="903,905 905,911" stroke-width="3.12"/>
<polyline points="615,989 652,968.4 654.4,980 616.5,1001.75 615,989" stroke-width="2.40"/>
<polyline points="597,969.5 613,980" stroke-width="1.92"/>
<ellipse cx="598" cy="970" rx="2" ry="2" stroke-width="1.68"/>
<polyline points="612,961.5 634,975" stroke-width="1.92"/>
<ellipse cx="613" cy="962" rx="2" ry="2" stroke-width="1.68"/>
<polyline points="631,977 636,983" stroke-width="2.88"/>
<path d="M 643,982 L 732.6,972 Q 738,971 744,974 L 790,1004 L 802,1012 Q 808,1018 804,1024 Q 800,1029 792,1029 L 718.8,1023.6 Q 709,1024 706,1031 L 704,1038 L 705,1074 Q 704,1083 696,1084 L 682,1084.5 Q 676,1084 670,1081 L 622,1049 Q 614,1044 614,1036 L 615.3,1028 L 633.7,996" stroke-width="5.04"/>
<path d="M 643,982 L 732.6,972 Q 738,971 744,974 L 790,1004 L 802,1012 Q 808,1018 804,1024 Q 800,1029 792,1029 L 718.8,1023.6 Q 709,1024 706,1031 L 704,1038 L 705,1074 Q 704,1083 696,1084 L 682,1084.5 Q 676,1084 670,1081 L 622,1049 Q 614,1044 614,1036 L 615.3,1028 L 633.7,996" stroke="#fff" stroke-width="1.6"/>
<polyline points="664,1079 666,1087" stroke-width="2.40"/>
<polyline points="782,997 798,1008" stroke-width="3.60"/>
<polyline points="654,977 670,976" stroke-width="3.60"/>
<polyline points="414,1126 414.5,1126" stroke-width="1.92"/>
<polyline points="882,1051 882.5,1051" stroke-width="1.92"/>
<polyline points="617,1098 617.5,1098" stroke-width="1.92"/>
</g>
<text class="b" x="438.2" y="115.8" font-size="25.0" textLength="161.5" lengthAdjust="spacingAndGlyphs">OVEN PARTS</text>
<text class="m" x="438.4" y="136.6" font-size="15.9" textLength="165.1" lengthAdjust="spacingAndGlyphs">For Model: RF310PXXW1</text>
<text class="b" x="280.2" y="1179.8" font-size="12.1" textLength="450.5" lengthAdjust="spacingAndGlyphs">FOR ORDERING INFORMATION REFER TO PARTS PRICE LIST</text>
<text class="b" x="503.2" y="1203.8" font-size="13.6" textLength="6.5" lengthAdjust="spacingAndGlyphs">4</text>
<text class="b" x="112.2" y="1201.8" font-size="15.0" textLength="49.5" lengthAdjust="spacingAndGlyphs">884949</text>
<text class="t" x="31" y="1258" font-size="5" textLength="64" lengthAdjust="spacingAndGlyphs">Whirlpool Manual  1/94</text>
<text class="t" x="31" y="1264" font-size="5" textLength="18" lengthAdjust="spacingAndGlyphs">OVEN</text>
<text class="t" x="839" y="1257" font-size="5" textLength="135" lengthAdjust="spacingAndGlyphs">Copyright (c) 1994 Whirlpool Corporation</text>
<text class="t" x="815" y="1263" font-size="5" textLength="159" lengthAdjust="spacingAndGlyphs">Copyright (c) Whirlpool Inc. All rights reserved</text>
<text class="n" x="202.8" y="265.2" font-size="20.7" textLength="23.5" lengthAdjust="spacingAndGlyphs">30</text>
<text class="n" x="202.8" y="287.2" font-size="20.7" textLength="22.5" lengthAdjust="spacingAndGlyphs">28</text>
<text class="n" x="130.8" y="521.2" font-size="19.3" textLength="17.5" lengthAdjust="spacingAndGlyphs">41</text>
<text class="n" x="292.8" y="439.2" font-size="19.3" textLength="20.5" lengthAdjust="spacingAndGlyphs">24</text>
<text class="n" x="324.8" y="454.2" font-size="19.3" textLength="20.5" lengthAdjust="spacingAndGlyphs">35</text>
<text class="n" x="322.8" y="474.2" font-size="19.3" textLength="22.5" lengthAdjust="spacingAndGlyphs">36</text>
<text class="n" x="322.8" y="494.2" font-size="19.3" textLength="20.5" lengthAdjust="spacingAndGlyphs">37</text>
<text class="n" x="285.8" y="591.2" font-size="19.3" textLength="21.5" lengthAdjust="spacingAndGlyphs">23</text>
<text class="n" x="284.8" y="621.2" font-size="19.3" textLength="19.5" lengthAdjust="spacingAndGlyphs">22</text>
<text class="n" x="239.8" y="717.2" font-size="19.3" textLength="8.5" lengthAdjust="spacingAndGlyphs">3</text>
<text class="n" x="414.8" y="713.2" font-size="19.3" textLength="7.5" lengthAdjust="spacingAndGlyphs">7</text>
<text class="n" x="410.8" y="736.2" font-size="19.3" textLength="8.5" lengthAdjust="spacingAndGlyphs">8</text>
<text class="n" x="459.8" y="580.2" font-size="17.9" textLength="20.5" lengthAdjust="spacingAndGlyphs">29</text>
<text class="n" x="576.8" y="583.2" font-size="19.3" textLength="8.5" lengthAdjust="spacingAndGlyphs">5</text>
<text class="n" x="518.8" y="644.2" font-size="19.3" textLength="16.5" lengthAdjust="spacingAndGlyphs">15</text>
<text class="n" x="629.8" y="631.2" font-size="19.3" textLength="20.5" lengthAdjust="spacingAndGlyphs">27</text>
<text class="n" x="567.8" y="706.2" font-size="19.3" textLength="9.5" lengthAdjust="spacingAndGlyphs">9</text>
<text class="n" x="543.8" y="721.2" font-size="19.3" textLength="16.5" lengthAdjust="spacingAndGlyphs">19</text>
<text class="n" x="615.8" y="551.2" font-size="20.7" textLength="18.5" lengthAdjust="spacingAndGlyphs">12</text>
<text class="n" x="737.8" y="404.2" font-size="17.9" textLength="9.5" lengthAdjust="spacingAndGlyphs">4</text>
<text class="n" x="727.8" y="448.2" font-size="19.3" textLength="17.5" lengthAdjust="spacingAndGlyphs">16</text>
<text class="n" x="874.8" y="509.2" font-size="19.3" textLength="16.5" lengthAdjust="spacingAndGlyphs">13</text>
<text class="n" x="602.8" y="268.2" font-size="19.3" textLength="21.5" lengthAdjust="spacingAndGlyphs">40</text>
<text class="n" x="614.8" y="288.2" font-size="17.9" textLength="9.5" lengthAdjust="spacingAndGlyphs">2</text>
<text class="n" x="614.8" y="315.2" font-size="19.3" textLength="6.5" lengthAdjust="spacingAndGlyphs">1</text>
<text class="n" x="894.8" y="212.2" font-size="17.9" textLength="12.5" lengthAdjust="spacingAndGlyphs">11</text>
<text class="n" x="894.8" y="236.2" font-size="22.1" textLength="17.5" lengthAdjust="spacingAndGlyphs">10</text>
<text class="n" x="122.8" y="799.2" font-size="19.3" textLength="17.5" lengthAdjust="spacingAndGlyphs">31</text>
<text class="n" x="122.8" y="830.2" font-size="19.3" textLength="20.5" lengthAdjust="spacingAndGlyphs">32</text>
<text class="n" x="518.8" y="957.2" font-size="20.7" textLength="22.5" lengthAdjust="spacingAndGlyphs">34</text>
<text class="n" x="474.8" y="825.2" font-size="17.9" textLength="16.5" lengthAdjust="spacingAndGlyphs">21</text>
<text class="n" x="616.8" y="761.2" font-size="17.9" textLength="15.5" lengthAdjust="spacingAndGlyphs">18</text>
<text class="n" x="699.8" y="809.2" font-size="20.7" textLength="19.5" lengthAdjust="spacingAndGlyphs">20</text>
<text class="n" x="628.8" y="886.2" font-size="22.1" textLength="22.5" lengthAdjust="spacingAndGlyphs">38</text>
<text class="n" x="628.8" y="909.2" font-size="22.1" textLength="21.5" lengthAdjust="spacingAndGlyphs">39</text>
</svg>
</body></html>
